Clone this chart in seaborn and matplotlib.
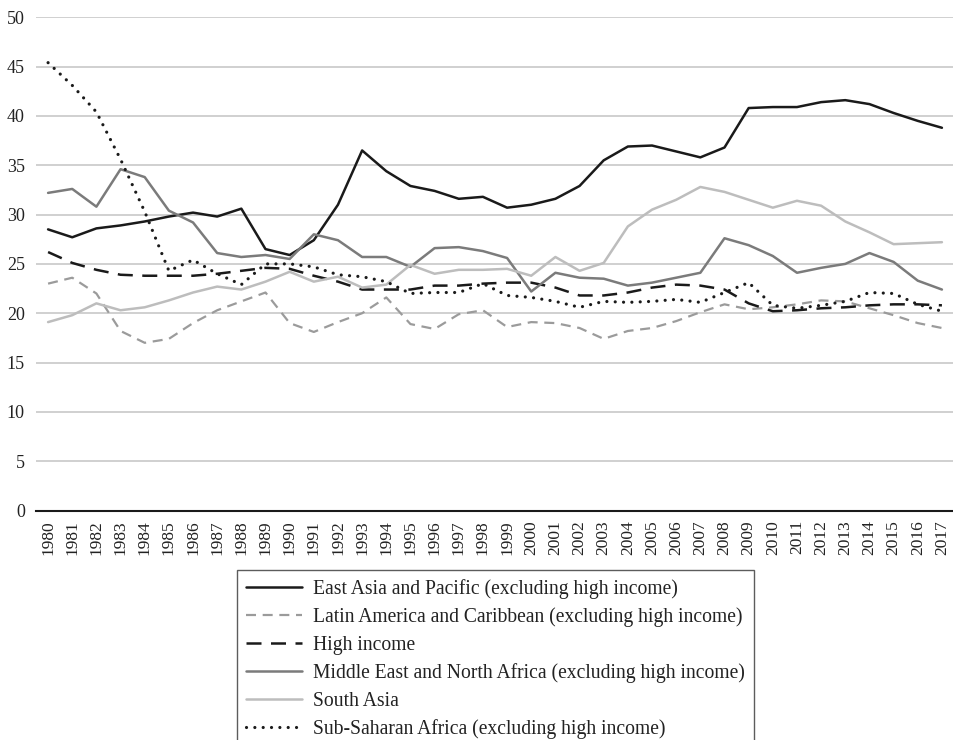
import matplotlib
matplotlib.use("Agg")
import matplotlib.pyplot as plt
import seaborn as sns
import numpy as np
import pandas as pd

years = list(range(1980, 2018))

east_asia = [28.5, 27.7, 28.6, 28.9, 29.3, 29.8, 30.2, 29.8, 30.6, 26.5, 25.9, 27.4,
             31.0, 36.5, 34.4, 32.9, 32.4, 31.6, 31.8, 30.7, 31.0, 31.6, 32.9, 35.5,
             36.9, 37.0, 36.4, 35.8, 36.8, 40.8, 40.9, 40.9, 41.4, 41.6, 41.2, 40.3,
             39.5, 38.8]
latin_america = [23.0, 23.6, 22.0, 18.2, 17.0, 17.4, 19.0, 20.3, 21.2, 22.1, 19.0, 18.1,
                 19.1, 20.0, 21.6, 18.9, 18.4, 19.9, 20.3, 18.6, 19.1, 19.0, 18.5, 17.4,
                 18.2, 18.5, 19.2, 20.1, 20.9, 20.4, 20.6, 20.9, 21.3, 21.2, 20.5, 19.8,
                 19.0, 18.5]
high_income = [26.2, 25.1, 24.4, 23.9, 23.8, 23.8, 23.8, 24.0, 24.3, 24.6, 24.5, 23.8,
               23.2, 22.4, 22.4, 22.4, 22.8, 22.8, 23.0, 23.1, 23.1, 22.6, 21.8, 21.8,
               22.1, 22.6, 22.9, 22.8, 22.4, 21.0, 20.2, 20.3, 20.5, 20.6, 20.8, 20.9,
               20.9, 20.8]
middle_east = [32.2, 32.6, 30.8, 34.6, 33.8, 30.4, 29.2, 26.1, 25.7, 25.9, 25.5, 28.0,
               27.4, 25.7, 25.7, 24.7, 26.6, 26.7, 26.3, 25.6, 22.2, 24.1, 23.6, 23.5,
               22.8, 23.1, 23.6, 24.1, 27.6, 26.9, 25.8, 24.1, 24.6, 25.0, 26.1, 25.2,
               23.3, 22.4]
south_asia = [19.1, 19.8, 21.0, 20.3, 20.6, 21.3, 22.1, 22.7, 22.4, 23.2, 24.2, 23.2,
              23.7, 22.6, 22.9, 24.9, 24.0, 24.4, 24.4, 24.5, 23.8, 25.7, 24.3, 25.1,
              28.8, 30.5, 31.5, 32.8, 32.3, 31.5, 30.7, 31.4, 30.9, 29.3, 28.2, 27.0,
              27.1, 27.2]
sub_saharan = [45.4, 43.1, 40.4, 35.6, 30.3, 24.3, 25.4, 24.0, 22.9, 25.0, 25.0, 24.7,
               23.9, 23.7, 23.2, 22.0, 22.1, 22.1, 23.0, 21.8, 21.6, 21.2, 20.6, 21.2,
               21.1, 21.2, 21.4, 21.1, 22.1, 23.1, 20.8, 20.5, 20.8, 21.2, 22.1, 22.0,
               20.9, 20.2]

series_names = [
    "East Asia and Pacific (excluding high income)",
    "Latin America and Caribbean (excluding high income)",
    "High income",
    "Middle East and North Africa (excluding high income)",
    "South Asia",
    "Sub-Saharan Africa (excluding high income)",
]
series_values = [east_asia, latin_america, high_income, middle_east, south_asia, sub_saharan]

styles = [
    dict(color="#1a1a1a", linestyle="-", lw=1.8, cap="butt"),
    dict(color="#9b9b9b", linestyle=(0, (4.5, 3.0)), lw=1.6, cap="butt"),
    dict(color="#1a1a1a", linestyle=(0, (6.0, 3.8)), lw=1.8, cap="butt"),
    dict(color="#7b7b7b", linestyle="-", lw=1.8, cap="butt"),
    dict(color="#bdbdbd", linestyle="-", lw=1.8, cap="butt"),
    dict(color="#1a1a1a", linestyle=(0, (0.01, 2.6)), lw=2.3, cap="round"),
]

sns.set_theme(style="white")
plt.rcParams["font.family"] = ["Liberation Serif", "DejaVu Serif"]

fig = plt.figure(figsize=(9.54, 7.40), dpi=100)
ax = fig.add_axes([36 / 954, 1 - 510.5 / 740, 1 - 36 / 954, (510.5 - 17.3) / 740])

idx = np.arange(len(years))
for name, vals, st in zip(series_names, series_values, styles):
    df = pd.DataFrame({"x": idx, "y": vals})
    sns.lineplot(data=df, x="x", y="y", ax=ax, color=st["color"], lw=st["lw"],
                 label=name, dash_capstyle=st["cap"])
    line = ax.get_lines()[-1]
    line.set_linestyle(st["linestyle"])

ax.set_xlim(-0.5, len(years) - 0.5)
ax.set_ylim(0, 50)
ax.set_yticks(np.arange(0, 51, 5))
ax.set_xticks(idx)
ax.set_xticklabels([str(y) for y in years], rotation=90, fontsize=12.5)
ax.tick_params(axis="y", labelsize=13, length=0, pad=8)
ax.tick_params(axis="x", length=0, pad=7)
ax.set_xlabel("")
ax.set_ylabel("")
ax.grid(axis="y", color="#c8c8c8", lw=1.2)
ax.grid(axis="x", visible=False)
for s in ["top", "right", "left"]:
    ax.spines[s].set_visible(False)
ax.spines["bottom"].set_color("#1a1a1a")
ax.spines["bottom"].set_linewidth(1.5)
for lab in ax.get_xticklabels() + ax.get_yticklabels():
    lab.set_color("#222222")

leg = ax.legend(loc="upper left", bbox_to_anchor=(237 / 954, 1 - 570 / 740),
                bbox_transform=fig.transFigure, frameon=True, fancybox=False,
                fontsize=14.1, handlelength=2.85, handletextpad=0.6,
                labelspacing=0.44, borderpad=0.45, borderaxespad=0)
leg.get_frame().set_edgecolor("#333333")
leg.get_frame().set_linewidth(1.0)
for t in leg.get_texts():
    t.set_color("#222222")
for h, st in zip(leg.get_lines(), styles):
    h.set_linestyle(st["linestyle"])
    h.set_dash_capstyle(st["cap"])

fig.savefig("out.png", dpi=100)
